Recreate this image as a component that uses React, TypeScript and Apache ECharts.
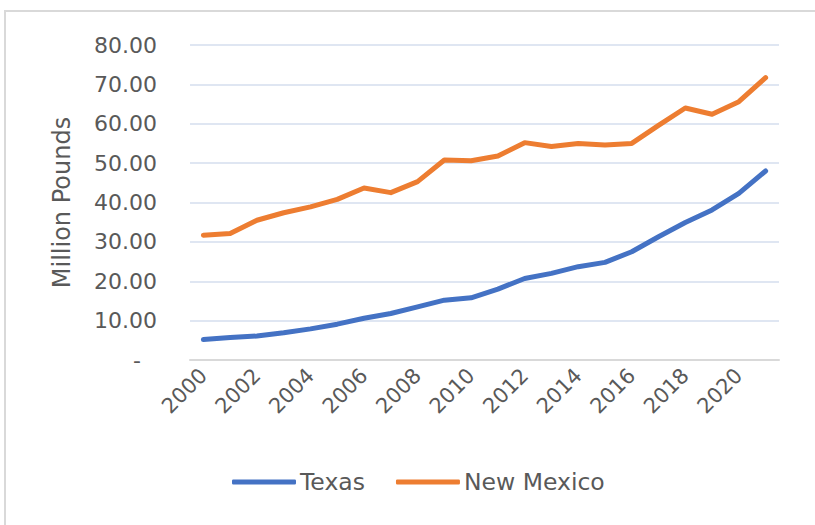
import React, { useEffect, useRef } from "react";
import * as echarts from "echarts";

const years = [
  "2000", "2001", "2002", "2003", "2004", "2005", "2006", "2007", "2008", "2009", "2010",
  "2011", "2012", "2013", "2014", "2015", "2016", "2017", "2018", "2019", "2020", "2021",
];
const texas = [
  5.2, 5.7, 6.1, 6.9, 7.9, 9.1, 10.6, 11.8, 13.5, 15.2, 15.8,
  18.0, 20.7, 22.0, 23.7, 24.8, 27.5, 31.3, 34.9, 38.1, 42.3, 48.0,
];
const newMexico = [
  31.7, 32.1, 35.5, 37.4, 38.9, 40.8, 43.7, 42.5, 45.3, 50.8, 50.6,
  51.8, 55.2, 54.2, 55.0, 54.6, 55.0, 59.6, 64.0, 62.4, 65.6, 71.7,
];
const seriesNames = ["Texas", "New Mexico"];
const yAxisTitle = "Million Pounds";

const FONT = "DejaVu Sans";
const LABEL = "#595959";

export default function App() {
  const ref = useRef<HTMLDivElement>(null);
  useEffect(() => {
    if (!ref.current) return;
    const chart = echarts.init(ref.current, undefined, { renderer: "svg" });
    chart.setOption({
      animation: false,
      backgroundColor: "#ffffff",
      graphic: [
        { type: "line", shape: { x1: 4, y1: 11, x2: 815, y2: 11 }, style: { stroke: "#d9d9d9", lineWidth: 2 } },
        { type: "line", shape: { x1: 5, y1: 11, x2: 5, y2: 525 }, style: { stroke: "#d9d9d9", lineWidth: 2 } },
      ],
      grid: { left: 190, right: 36, top: 45, bottom: 165, containLabel: false },
      legend: {
        data: seriesNames,
        bottom: 26,
        left: 227,
        padding: 5,
        icon: "roundRect",
        itemWidth: 64,
        itemHeight: 5,
        itemGap: 31,
        textStyle: { fontFamily: FONT, fontSize: 23.5, color: LABEL, padding: [0, 0, 0, -1] },
      },
      xAxis: {
        type: "category",
        data: years,
        boundaryGap: true,
        axisLine: { show: true, lineStyle: { color: "#d9d9d9", width: 2 } },
        axisTick: { show: false },
        axisLabel: {
          interval: 1,
          rotate: 45,
          margin: 12,
          fontFamily: FONT,
          fontSize: 21,
          color: LABEL,
        },
      },
      yAxis: {
        type: "value",
        min: 0,
        max: 80,
        interval: 10,
        name: yAxisTitle,
        nameLocation: "middle",
        nameGap: 116,
        nameRotate: 90,
        nameTextStyle: { fontFamily: FONT, fontSize: 24, color: LABEL },
        axisLine: { show: false },
        axisTick: { show: false },
        splitLine: { lineStyle: { color: "#dfe6f2", width: 2 } },
        axisLabel: {
          margin: 33,
          fontFamily: FONT,
          fontSize: 22,
          color: LABEL,
          formatter: (v: number) => (v === 0 ? "{d|-}" : v.toFixed(2)),
          rich: { d: { fontFamily: FONT, fontSize: 22, color: LABEL, padding: [0, 16, 0, 0] } },
        },
      },
      series: [
        {
          name: seriesNames[0],
          type: "line",
          data: texas,
          showSymbol: false,
          symbol: "none",
          color: "#4472C4",
          lineStyle: { width: 5, color: "#4472C4", cap: "round", join: "round" },
        },
        {
          name: seriesNames[1],
          type: "line",
          data: newMexico,
          showSymbol: false,
          symbol: "none",
          color: "#ED7D31",
          lineStyle: { width: 5, color: "#ED7D31", cap: "round", join: "round" },
        },
      ],
    });
    return () => chart.dispose();
  }, []);
  return <div ref={ref} style={{ width: 815, height: 525, position: "fixed", left: 0, top: 0 }} />;
}
